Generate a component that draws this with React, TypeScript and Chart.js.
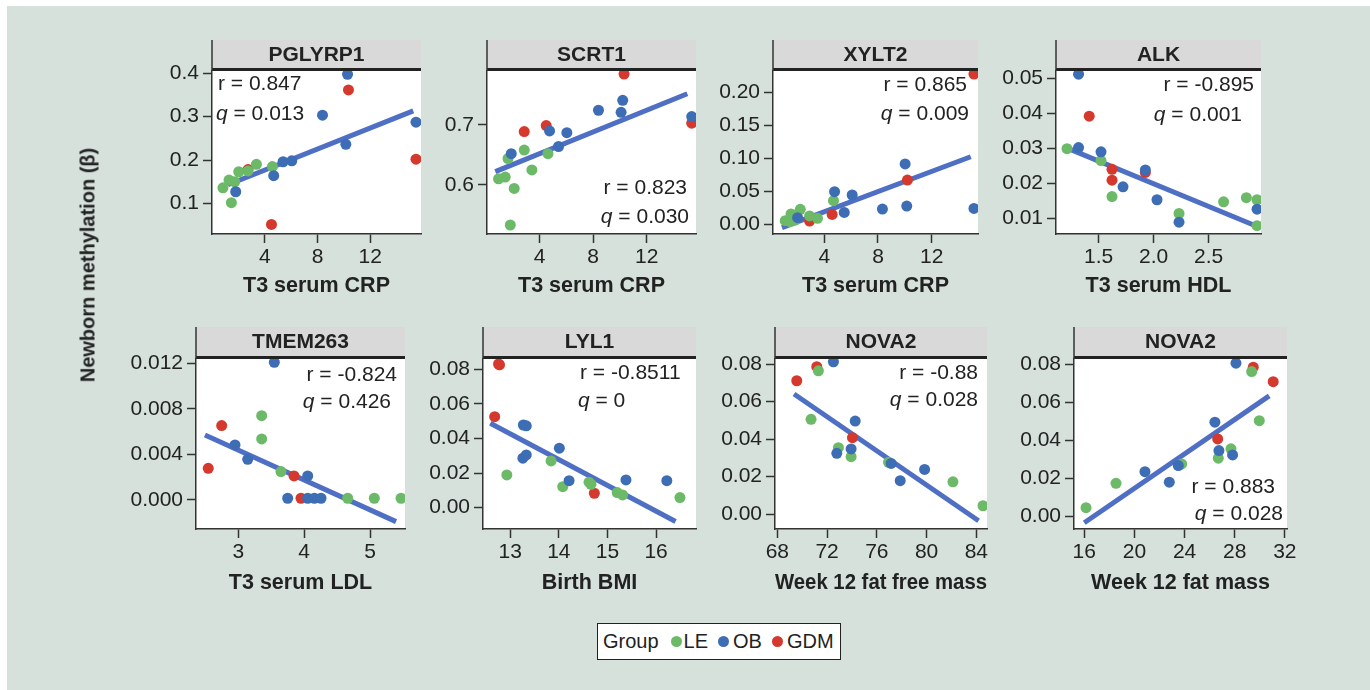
import React, { useEffect, useRef } from "react";
import { Chart, registerables } from "chart.js";
Chart.register(...registerables);

type Pt = [number, number];

// ---------- DATA ----------
// PGLYRP1 vs T3 serum CRP
const pglyrp1LE: Pt[] = [[0.83, 0.136], [1.29, 0.154], [1.47, 0.102], [1.72, 0.150], [2.03, 0.173], [2.73, 0.175], [3.37, 0.190], [4.58, 0.185]];
const pglyrp1OB: Pt[] = [[1.80, 0.127], [4.68, 0.164], [5.39, 0.196], [6.05, 0.198], [8.38, 0.303], [10.15, 0.236], [10.28, 0.397], [15.47, 0.287]];
const pglyrp1GDM: Pt[] = [[2.73, 0.178], [4.51, 0.052], [10.35, 0.361], [15.47, 0.202]];
const pglyrp1Fit: Pt[] = [[1.21, 0.143], [15.26, 0.313]];

// SCRT1 vs T3 serum CRP
const scrt1LE: Pt[] = [[0.94, 0.610], [1.44, 0.613], [1.65, 0.644], [1.82, 0.533], [2.11, 0.594], [2.86, 0.658], [3.43, 0.625], [4.63, 0.652]];
const scrt1OB: Pt[] = [[1.89, 0.652], [4.75, 0.690], [5.42, 0.664], [6.04, 0.687], [8.40, 0.7245], [10.09, 0.721], [10.21, 0.741], [15.36, 0.714]];
const scrt1GDM: Pt[] = [[2.86, 0.689], [4.5, 0.699], [10.31, 0.785], [15.36, 0.703]];
const scrt1Fit: Pt[] = [[0.70, 0.622], [15.03, 0.752]];

// XYLT2 vs T3 serum CRP
const xylt2LE: Pt[] = [[1.10, 0.0055], [1.45, 0.004], [1.53, 0.0156], [1.85, 0.0065], [2.22, 0.0227], [2.91, 0.0126], [3.50, 0.009], [4.69, 0.0358]];
const xylt2OB: Pt[] = [[2.02, 0.0101], [4.77, 0.0494], [5.49, 0.018], [6.08, 0.0444], [8.33, 0.023], [10.02, 0.0914], [10.14, 0.0277], [15.14, 0.024]];
const xylt2GDM: Pt[] = [[2.91, 0.005], [4.59, 0.015], [10.19, 0.067], [15.14, 0.2277]];
const xylt2Fit: Pt[] = [[0.86, -0.005], [14.9, 0.1024]];

// ALK vs T3 serum HDL
const alkLE: Pt[] = [[1.213, 0.0299], [1.522, 0.0265], [1.622, 0.0162], [2.231, 0.0114], [2.636, 0.0147], [2.843, 0.0159], [2.94, 0.0153], [2.94, 0.0079]];
const alkOB: Pt[] = [[1.318, 0.0512], [1.318, 0.0302], [1.522, 0.0290], [1.722, 0.0190], [1.925, 0.0238], [2.031, 0.0153], [2.231, 0.0089], [2.94, 0.0126]];
const alkGDM: Pt[] = [[1.415, 0.0392], [1.622, 0.0240], [1.622, 0.0209], [1.925, 0.0231]];
const alkFit: Pt[] = [[1.182, 0.0305], [2.909, 0.0081]];

// TMEM263 vs T3 serum LDL
const tmem263LE: Pt[] = [[3.355, 0.0074], [3.355, 0.00536], [3.648, 0.00249], [4.661, 0.00015], [5.065, 0.00015], [5.471, 0.00015]];
const tmem263OB: Pt[] = [[2.95, 0.00483], [3.143, 0.00357], [3.547, 0.01209], [3.75, 0.00015], [4.054, 0.00211], [4.054, 0.00015], [4.155, 0.00015], [4.256, 0.00015]];
const tmem263GDM: Pt[] = [[2.544, 0.00278], [2.748, 0.00653], [3.846, 0.00211], [3.952, 0.00015]];
const tmem263Fit: Pt[] = [[2.494, 0.00571], [5.395, -0.0019]];

// LYL1 vs Birth BMI
const lyl1LE: Pt[] = [[12.93, 0.0189], [13.84, 0.027], [14.08, 0.0121], [14.62, 0.0147], [14.66, 0.0135], [15.20, 0.0087], [15.31, 0.0073], [16.49, 0.0058]];
const lyl1OB: Pt[] = [[13.26, 0.0286], [13.27, 0.0478], [13.33, 0.0473], [13.33, 0.0305], [14.01, 0.0344], [14.21, 0.0156], [15.38, 0.016], [16.22, 0.0156]];
const lyl1GDM: Pt[] = [[12.68, 0.0526], [12.76, 0.0831], [12.78, 0.0826], [14.73, 0.0083]];
const lyl1Fit: Pt[] = [[12.59, 0.0488], [16.40, -0.0081]];

// NOVA2 vs Week 12 fat free mass
const nova2ffmLE: Pt[] = [[70.71, 0.0505], [71.30, 0.0764], [72.91, 0.0354], [73.93, 0.0306], [76.94, 0.0276], [82.12, 0.0172], [84.54, 0.0044]];
const nova2ffmOB: Pt[] = [[72.51, 0.0812], [72.78, 0.0324], [73.93, 0.0347], [74.26, 0.0496], [77.15, 0.027], [77.88, 0.0178], [79.84, 0.0238]];
const nova2ffmGDM: Pt[] = [[69.56, 0.0711], [71.17, 0.0786], [74.04, 0.0407]];
const nova2ffmFit: Pt[] = [[69.34, 0.064], [84.18, -0.0036]];

// NOVA2 vs Week 12 fat mass
const nova2fmLE: Pt[] = [[16.14, 0.0047], [18.53, 0.0175], [23.77, 0.0277], [26.69, 0.0307], [27.70, 0.0356], [29.35, 0.0762], [29.96, 0.0504]];
const nova2fmOB: Pt[] = [[20.84, 0.0236], [22.78, 0.0181], [23.50, 0.0268], [26.42, 0.0496], [26.74, 0.0347], [27.83, 0.0324], [28.10, 0.0806]];
const nova2fmGDM: Pt[] = [[26.64, 0.0408], [29.48, 0.0785], [31.07, 0.0709]];
const nova2fmFit: Pt[] = [[16.0, -0.0032], [30.75, 0.0634]];

// Tick labels
const crpTicks = ["4", "8", "12"];
const hdlTicks = ["1.5", "2.0", "2.5"];
const ldlTicks = ["3", "4", "5"];
const bmiTicks = ["13", "14", "15", "16"];
const ffmTicks = ["68", "72", "76", "80", "84"];
const fmTicks = ["16", "20", "24", "28", "32"];
const pglyrp1YTicks = ["0.1", "0.2", "0.3", "0.4"];
const scrt1YTicks = ["0.6", "0.7"];
const xylt2YTicks = ["0.00", "0.05", "0.10", "0.15", "0.20"];
const alkYTicks = ["0.01", "0.02", "0.03", "0.04", "0.05"];
const tmem263YTicks = ["0.000", "0.004", "0.008", "0.012"];
const row2YTicks = ["0.00", "0.02", "0.04", "0.06", "0.08"];

const groupLabels = ["LE", "OB", "GDM"];

// ---------- STYLE ----------
const FONT = '"Liberation Sans", Arial, Helvetica, sans-serif';
const GREEN = "#6cba67";
const BLUE = "#3d6db4";
const RED = "#d5392e";
const LINE = "#4e6fc4";
const INK = "#222222";
const AXIS = "#333333";
const BG = "#d5e1da";
const STRIP = "#d9d9d9";

type Ann = { align: "left" | "right"; rx: number; ry: number; qx: number; qy: number };
type Box = { left: number; right: number; stripTop: number; top: number; bottom: number };
type PanelCfg = {
  title: string; xTitle: string;
  le: Pt[]; ob: Pt[]; gdm: Pt[]; fit: Pt[];
  xMin: number; xMax: number; yMin: number; yMax: number;
  xTicks: string[]; yTicks: string[];
  r: string; q: string; ann: Ann; box: Box; titlePad: number;
};

const R1 = { stripTop: 40, top: 71, bottom: 234 };
const R2 = { stripTop: 327, top: 359, bottom: 529 };

const panels: PanelCfg[] = [
  { title: "PGLYRP1", xTitle: "T3 serum CRP", le: pglyrp1LE, ob: pglyrp1OB, gdm: pglyrp1GDM, fit: pglyrp1Fit,
    xMin: 0, xMax: 15.85, yMin: 0.0299, yMax: 0.4046, xTicks: crpTicks, yTicks: pglyrp1YTicks,
    r: "0.847", q: "0.013", ann: { align: "left", rx: 6, ry: 13, qx: 4, qy: 43 },
    box: { left: 212, right: 421, ...R1 }, titlePad: 5.2 },
  { title: "SCRT1", xTitle: "T3 serum CRP", le: scrt1LE, ob: scrt1OB, gdm: scrt1GDM, fit: scrt1Fit,
    xMin: 0.08, xMax: 15.68, yMin: 0.518, yMax: 0.79, xTicks: crpTicks, yTicks: scrt1YTicks,
    r: "0.823", q: "0.030", ann: { align: "right", rx: -9, ry: 117, qx: -7, qy: 146 },
    box: { left: 487, right: 696, ...R1 }, titlePad: 5.2 },
  { title: "XYLT2", xTitle: "T3 serum CRP", le: xylt2LE, ob: xylt2OB, gdm: xylt2GDM, fit: xylt2Fit,
    xMin: 0.19, xMax: 15.44, yMin: -0.0147, yMax: 0.2323, xTicks: crpTicks, yTicks: xylt2YTicks,
    r: "0.865", q: "0.009", ann: { align: "right", rx: -11, ry: 14, qx: -9, qy: 43 },
    box: { left: 773, right: 978, ...R1 }, titlePad: 5.2 },
  { title: "ALK", xTitle: "T3 serum HDL", le: alkLE, ob: alkOB, gdm: alkGDM, fit: alkFit,
    xMin: 1.113, xMax: 2.976, yMin: 0.00551, yMax: 0.0521, xTicks: hdlTicks, yTicks: alkYTicks,
    r: "-0.895", q: "0.001", ann: { align: "right", rx: -7, ry: 14, qx: -19, qy: 44 },
    box: { left: 1056, right: 1261, ...R1 }, titlePad: 5.2 },
  { title: "TMEM263", xTitle: "T3 serum LDL", le: tmem263LE, ob: tmem263OB, gdm: tmem263GDM, fit: tmem263Fit,
    xMin: 2.358, xMax: 5.531, yMin: -0.00255, yMax: 0.01238, xTicks: ldlTicks, yTicks: tmem263YTicks,
    r: "-0.824", q: "0.426", ann: { align: "right", rx: -8, ry: 16, qx: -14, qy: 43 },
    box: { left: 196, right: 405, ...R2 }, titlePad: 3.2 },
  { title: "LYL1", xTitle: "Birth BMI", le: lyl1LE, ob: lyl1OB, gdm: lyl1GDM, fit: lyl1Fit,
    xMin: 12.44, xMax: 16.82, yMin: -0.0124, yMax: 0.086, xTicks: bmiTicks, yTicks: row2YTicks,
    r: "-0.8511", q: "0", ann: { align: "left", rx: 97, ry: 14, qx: 95, qy: 42 },
    box: { left: 483, right: 696, ...R2 }, titlePad: 3.2 },
  { title: "NOVA2", xTitle: "Week 12 fat free mass", le: nova2ffmLE, ob: nova2ffmOB, gdm: nova2ffmGDM, fit: nova2ffmFit,
    xMin: 67.81, xMax: 84.86, yMin: -0.008, yMax: 0.0827, xTicks: ffmTicks, yTicks: row2YTicks,
    r: "-0.88", q: "0.028", ann: { align: "right", rx: -9, ry: 14, qx: -9, qy: 41 },
    box: { left: 775, right: 987, ...R2 }, titlePad: 3.2 },
  { title: "NOVA2", xTitle: "Week 12 fat mass", le: nova2fmLE, ob: nova2fmOB, gdm: nova2fmGDM, fit: nova2fmFit,
    xMin: 15.18, xMax: 32.17, yMin: -0.0065, yMax: 0.0828, xTicks: fmTicks, yTicks: row2YTicks,
    r: "0.883", q: "0.028", ann: { align: "right", rx: -12, ry: 128, qx: -4, qy: 155 },
    box: { left: 1074, right: 1287, ...R2 }, titlePad: 3.2 },
];

const YW = 100;
const PR = 22;
const XH = 70;

const toXY = (pts: Pt[]) => pts.map(([x, y]) => ({ x, y }));

function PanelChart({ p }: { p: PanelCfg }) {
  const ref = useRef<HTMLCanvasElement | null>(null);
  const w = YW + (p.box.right - p.box.left) + PR;
  const h = p.box.bottom - p.box.stripTop + XH;
  const stripH = p.box.top - p.box.stripTop;

  useEffect(() => {
    const canvas = ref.current;
    if (!canvas) return;
    const xVals = p.xTicks.map(Number);
    const yVals = p.yTicks.map(Number);

    const panelPlugin = {
      id: "panelDeco",
      beforeDraw(chart: any) {
        const { ctx, chartArea } = chart;
        const { left, right, top, bottom } = chartArea;
        ctx.save();
        ctx.fillStyle = "#ffffff";
        ctx.fillRect(left, top, right - left, bottom - top);
        ctx.fillStyle = STRIP;
        ctx.fillRect(left, 0, right - left, top - 3);
        ctx.fillStyle = INK;
        ctx.fillRect(left, top - 3, right - left, 3);
        ctx.strokeStyle = AXIS;
        ctx.lineWidth = 1.5;
        ctx.beginPath();
        ctx.moveTo(left, 0);
        ctx.lineTo(left, top);
        ctx.stroke();
        ctx.fillStyle = INK;
        ctx.font = `bold 21px ${FONT}`;
        ctx.textAlign = "center";
        ctx.textBaseline = "middle";
        ctx.fillText(p.title, (left + right) / 2, (top - 3) / 2 + 1);
        ctx.restore();
      },
      afterDraw(chart: any) {
        const { ctx, chartArea } = chart;
        const { left, right, top } = chartArea;
        const a = p.ann;
        ctx.save();
        ctx.fillStyle = INK;
        ctx.textBaseline = "middle";
        const reg = `21px ${FONT}`;
        const ital = `italic 21px ${FONT}`;
        const rText = `r = ${p.r}`;
        ctx.font = reg;
        const rw = ctx.measureText(rText).width;
        const rx = a.align === "left" ? left + a.rx : right + a.rx - rw;
        ctx.textAlign = "left";
        ctx.fillText(rText, rx, top + a.ry);
        ctx.font = ital;
        const qw = ctx.measureText("q").width;
        ctx.font = reg;
        const rest = ` = ${p.q}`;
        const restW = ctx.measureText(rest).width;
        const qx = a.align === "left" ? left + a.qx : right + a.qx - qw - restW;
        ctx.font = ital;
        ctx.fillText("q", qx, top + a.qy);
        ctx.font = reg;
        ctx.fillText(rest, qx + qw, top + a.qy);
        ctx.restore();
      },
    };

    const tickFont = { family: FONT, size: 21 };
    const gridOpts = {
      display: true,
      drawOnChartArea: false,
      drawTicks: true,
      tickLength: 9,
      tickColor: AXIS,
      tickWidth: 1.5,
      color: AXIS,
    };
    const pointDs = (data: Pt[], color: string, label: string) => ({
      type: "scatter" as const,
      label,
      data: toXY(data),
      backgroundColor: color,
      borderWidth: 0,
      pointRadius: 5.5,
      pointHoverRadius: 5.5,
      clip: 0,
    });

    const chart = new Chart(canvas, {
      type: "scatter",
      data: {
        datasets: [
          pointDs(p.ob, BLUE, groupLabels[1]),
          pointDs(p.le, GREEN, groupLabels[0]),
          pointDs(p.gdm, RED, groupLabels[2]),
          {
            type: "line" as const,
            label: "fit",
            data: toXY(p.fit),
            borderColor: LINE,
            borderWidth: 5,
            pointRadius: 0,
            showLine: true,
            fill: false,
            clip: 0,
          } as any,
        ],
      },
      options: {
        animation: false,
        responsive: false,
        maintainAspectRatio: false,
        events: [],
        layout: { padding: { top: stripH, right: PR, left: 0, bottom: 0 } },
        plugins: { legend: { display: false }, tooltip: { enabled: false }, title: { display: false } },
        scales: {
          x: {
            type: "linear",
            min: p.xMin,
            max: p.xMax,
            afterBuildTicks: (s: any) => { s.ticks = xVals.map((v) => ({ value: v })); },
            afterFit: (s: any) => { s.height = XH; },
            ticks: {
              callback: (_v: any, i: number) => p.xTicks[i],
              font: tickFont, color: INK, padding: 1.5, autoSkip: false, maxRotation: 0, minRotation: 0,
            },
            grid: gridOpts,
            border: { display: true, color: AXIS, width: 1.5 },
            title: {
              display: true, text: p.xTitle, color: INK,
              font: { family: FONT, size: 21.5, weight: "bold" },
              padding: { top: 0, bottom: p.titlePad },
            },
          },
          y: {
            type: "linear",
            min: p.yMin,
            max: p.yMax,
            afterBuildTicks: (s: any) => { s.ticks = yVals.map((v) => ({ value: v })); },
            afterFit: (s: any) => { s.width = YW; },
            ticks: {
              callback: (_v: any, i: number) => p.yTicks[i],
              font: tickFont, color: INK, padding: 4, autoSkip: false,
            },
            grid: gridOpts,
            border: { display: true, color: AXIS, width: 1.5 },
          },
        },
      } as any,
      plugins: [panelPlugin],
    });
    return () => chart.destroy();
  }, [p]);

  return (
    <canvas
      ref={ref}
      width={w}
      height={h}
      style={{ position: "absolute", left: p.box.left - YW, top: p.box.stripTop, width: w, height: h }}
    />
  );
}

const legendColors = [GREEN, BLUE, RED];

export default function App() {
  return (
    <div style={{ position: "absolute", left: 0, top: 0, width: 1370, height: 690, background: "#ffffff", overflow: "hidden", fontFamily: FONT }}>
      <div style={{ position: "absolute", left: 7, top: 6, width: 1363, height: 684, background: BG }} />
      {panels.map((p, i) => (
        <PanelChart key={i} p={p} />
      ))}
      <div
        style={{
          position: "absolute", left: 88, top: 265, transform: "translate(-50%, -50%) rotate(-90deg)",
          whiteSpace: "nowrap", fontWeight: "bold", fontSize: 20, color: INK,
        }}
      >
        Newborn methylation (β)
      </div>
      <div
        style={{
          position: "absolute", left: 597, top: 623, width: 244, height: 37, boxSizing: "border-box",
          border: "1px solid #222", background: "#ffffff", display: "flex", alignItems: "center",
          paddingLeft: 5, fontSize: 20, color: INK, whiteSpace: "nowrap",
        }}
      >
        <span>Group</span>
        {groupLabels.map((g, i) => (
          <React.Fragment key={g}>
            <span
              style={{
                display: "inline-block", width: 11, height: 11, borderRadius: "50%",
                background: legendColors[i], marginLeft: i === 0 ? 12 : 10, marginRight: i === 0 ? 2 : 4,
              }}
            />
            <span>{g}</span>
          </React.Fragment>
        ))}
      </div>
    </div>
  );
}
